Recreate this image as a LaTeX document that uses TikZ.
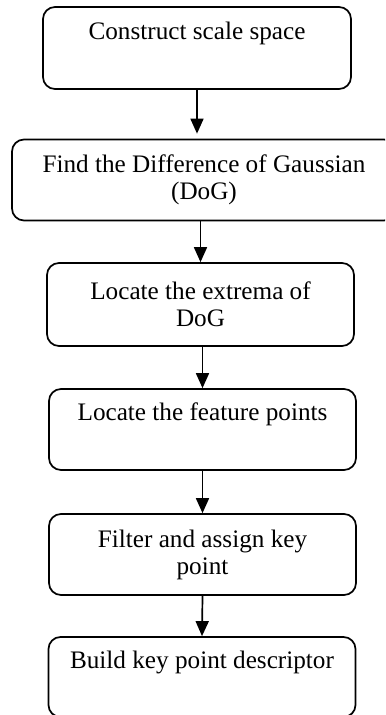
\documentclass[tikz,border=0pt]{standalone}
\usepackage{fontspec}
\setmainfont{Liberation Serif}
\usetikzlibrary{arrows.meta}
\begin{document}
\begin{tikzpicture}[x=0.5pt, y=-0.5pt, line cap=round, line join=round, font=\fontsize{12.6}{13.5}\selectfont, >={Triangle[length=7.5pt,width=6.5pt]}]
			\tikzset{stage/.style={draw, line width=0.85pt, rounded corners=6pt, align=center, inner sep=0pt, minimum width=153.5pt, minimum height=40.5pt}}
			\clip (0,0) rectangle (385,715);
			\node[stage, minimum width=154pt, minimum height=41pt] (scale) at (197,48) {Construct scale space\\ \strut};
			\node[stage, minimum width=192pt] (dog) at (204,180) {Find the Difference of Gaussian\\(DoG)};
			\node[stage, minimum height=41.5pt] (extrema) at (200.5,304.5) {Locate the extrema of\\DoG};
			\node[stage] (feature) at (202.5,429.5) {Locate the feature points\\ \strut};
			\node[stage] (filter) at (202.5,554.5) {Filter and assign key\\point};
			\node[stage, minimum height=40pt] (descr) at (202,677) {Build key point descriptor\\ \strut};
			\draw[->, line width=0.85pt] (scale.south) -- ([yshift=2.5pt]scale.south |- dog.north);
			\draw[->, line width=0.85pt] (dog.south -| extrema.north) -- (extrema.north);
			\draw[->, line width=0.85pt] (extrema.south -| feature.north) -- (feature.north);
			\draw[->, line width=0.85pt] (feature.south) -- (filter.north);
			\draw[->, line width=0.85pt] (filter.south) -- (descr.north);
		\end{tikzpicture}
\end{document}
